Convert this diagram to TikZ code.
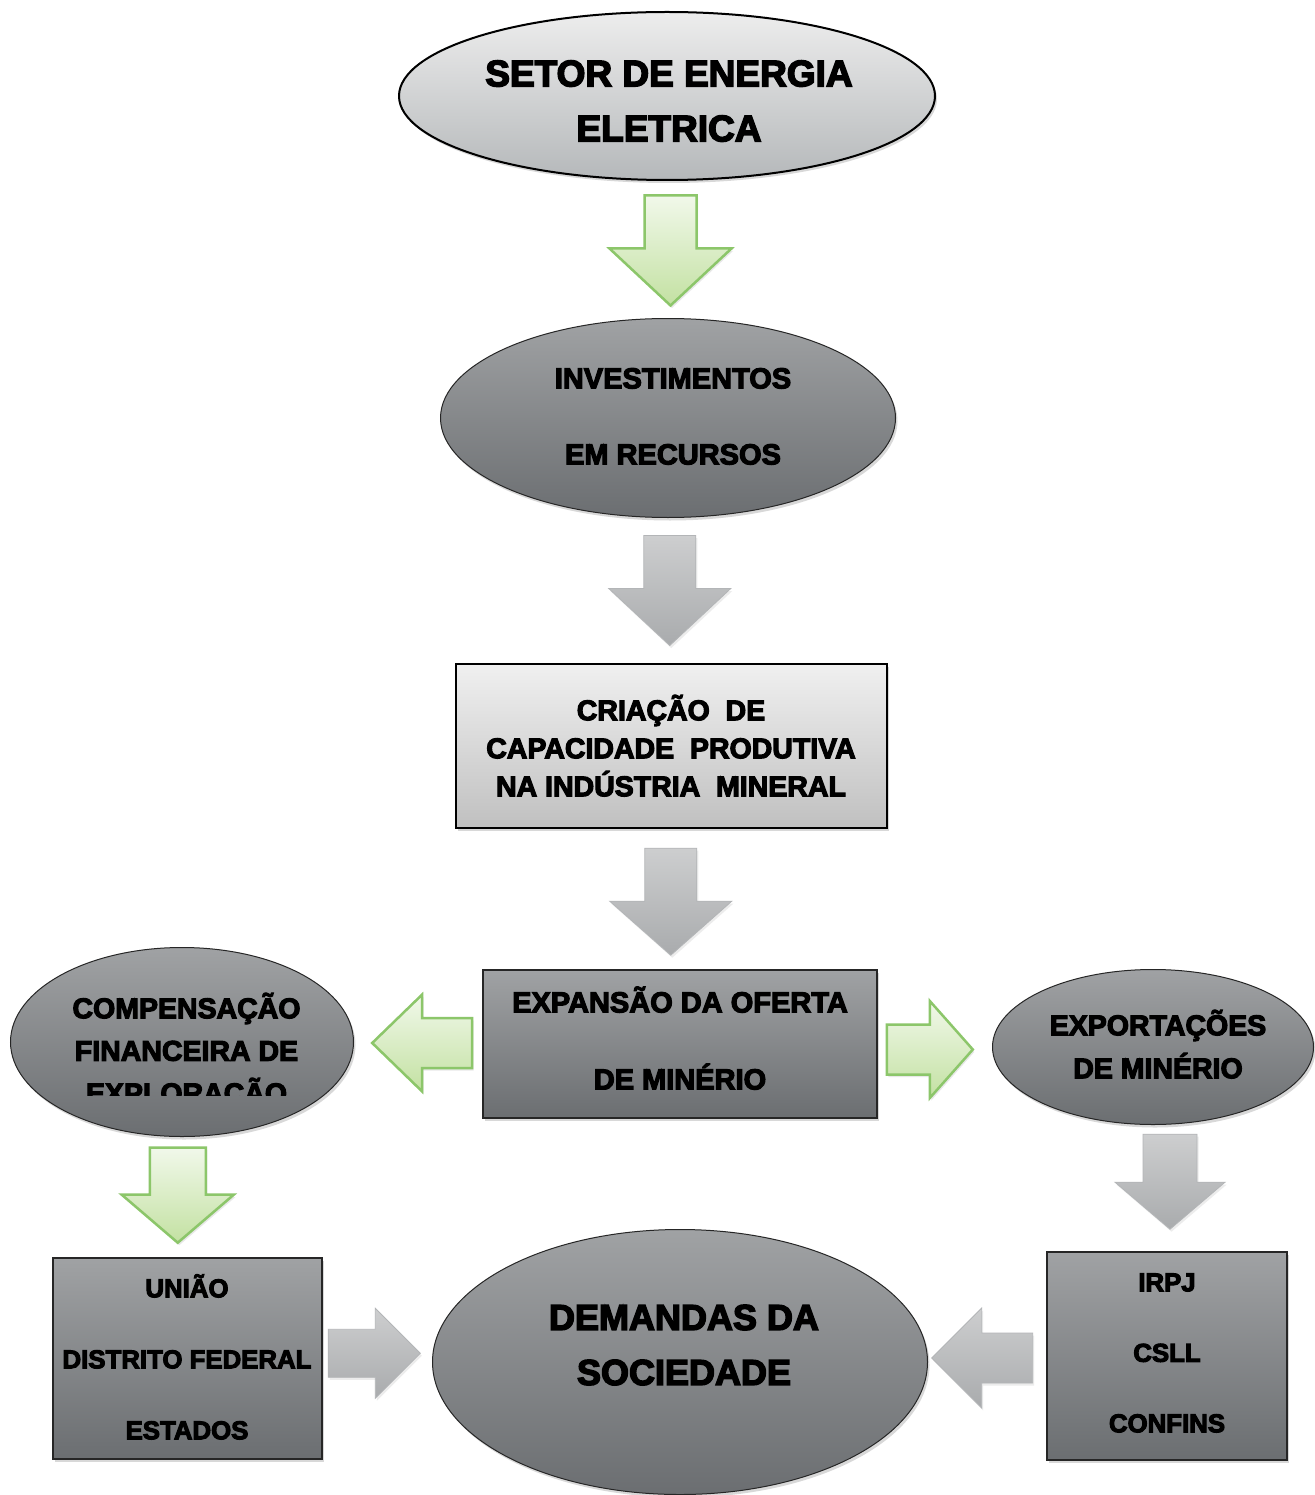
\documentclass[tikz,border=0pt]{standalone}
\usepackage{fontspec}
\setmainfont{Liberation Sans}[BoldFeatures={FakeBold=4}]
\usetikzlibrary{shapes.geometric,shadows,calc}

\definecolor{lightTop}{HTML}{EDEDED}
\definecolor{lightBot}{HTML}{B5B8BA}
\definecolor{boxTop}{HTML}{F0F0F0}
\definecolor{boxBot}{HTML}{C0C0C0}
\definecolor{darkTop}{HTML}{A0A2A4}
\definecolor{darkBot}{HTML}{6B6E71}
\definecolor{greenTop}{HTML}{F1F8EA}
\definecolor{greenBot}{HTML}{C3E1A2}
\definecolor{greenLine}{HTML}{8CC66A}
\definecolor{grayTop}{HTML}{CDCECF}
\definecolor{grayBot}{HTML}{A9ABAD}
\definecolor{grayLine}{HTML}{B3B5B7}

\newcommand\txtsize[2]{\fontsize{#1}{#2}\selectfont\bfseries}

\begin{document}
\begin{tikzpicture}[x=1pt,y=-1pt,
  softshadow/.style={drop shadow={opacity=0.3,shadow xshift=2pt,shadow yshift=-3pt}},
  lightell/.style={ellipse,draw=black,line width=2pt,top color=lightTop,bottom color=lightBot,inner sep=0pt,softshadow},
  darkell/.style={ellipse,draw=black!85,line width=1pt,top color=darkTop,bottom color=darkBot,inner sep=0pt,softshadow},
  lightbox/.style={rectangle,draw=black,line width=2pt,top color=boxTop,bottom color=boxBot,inner sep=0pt,softshadow},
  darkbox/.style={rectangle,draw=black!85,line width=1.2pt,top color=darkTop,bottom color=darkBot,inner sep=0pt,softshadow},
  % multi-line label: the box runs from the top of the first line's capitals
  % down to the last baseline, so the node centre sits midway between the lines
  lbl/.style={align=center,inner sep=0pt,text=black,text depth=0pt},
  greenarrow/.style={draw=greenLine,line width=2.5pt,line join=miter,top color=greenTop,bottom color=greenBot,
    drop shadow={opacity=0.18,shadow xshift=1.5pt,shadow yshift=-2.5pt}},
  grayarrow/.style={draw=grayLine,line width=0.8pt,line join=miter,top color=grayTop,bottom color=grayBot,
    drop shadow={opacity=0.15,shadow xshift=1.5pt,shadow yshift=-2.5pt}},
  % block arrow centred on the origin, pointing along +x:
  % length / shaft width / head width / head length / style
  pics/barrow/.style args={#1/#2/#3/#4/#5}{code={
    \path[#5] (-#1/2,#2/2) -- (#1/2-#4,#2/2) -- (#1/2-#4,#3/2) -- (#1/2,0)
      -- (#1/2-#4,-#3/2) -- (#1/2-#4,-#2/2) -- (-#1/2,-#2/2) -- cycle;
  }}
]
\useasboundingbox (0,0) rectangle (1314,1495);
\fill[white] (0,0) rectangle (1314,1495);

% ---- shapes ----
\node[lightell,minimum width=536,minimum height=168] (top) at (667,96) {};
\node[darkell,minimum width=455,minimum height=199] (inv) at (668,418) {};
\node[lightbox,minimum width=431,minimum height=164] (cria) at (671.5,746) {};
\node[darkbox,minimum width=394,minimum height=148] (exp) at (680,1044) {};
\node[darkell,minimum width=343,minimum height=189] (comp) at (182,1042) {};
\node[darkell,minimum width=321,minimum height=155] (expo) at (1153,1047) {};
\node[darkbox,minimum width=269,minimum height=201] (uni) at (187.5,1358.5) {};
\node[darkell,minimum width=495,minimum height=265] (dem) at (680,1362) {};
\node[darkbox,minimum width=240,minimum height=208] (irpj) at (1167,1356) {};

% ---- texts ----
\node[lbl,font=\txtsize{37}{55},text height=81.6pt] (topT) at (669,100.5)
  {SETOR DE ENERGIA\\ELETRICA};
\node[lbl,font=\txtsize{29}{76},text height=96.8pt] (invT) at (673,416)
  {INVESTIMENTOS\\EM RECURSOS};
\node[lbl,font=\txtsize{28.5}{38},text height=96.4pt] (criaT) at (671,748)
  {CRIAÇÃO\ \ DE\\CAPACIDADE\ \ PRODUTIVA\\NA INDÚSTRIA\ \ MINERAL};
\node[lbl,font=\txtsize{29}{77},text height=97.8pt] (expT) at (680,1040.5)
  {EXPANSÃO DA OFERTA\\DE MINÉRIO};
\begin{scope}
  \clip (0,0) rectangle (1314,1095);
  \node[lbl,font=\txtsize{28.5}{42.5},text height=105.4pt] (compT) at (186.5,1050.5)
    {COMPENSAÇÃO\\FINANCEIRA DE\\EXPLORAÇÃO};
\end{scope}
\node[lbl,font=\txtsize{28.5}{43},text height=63.4pt] (expoT) at (1158,1046.5)
  {EXPORTAÇÕES\\DE MINÉRIO};
\node[lbl,font=\txtsize{25.8}{71},text height=160.5pt] (uniT) at (187,1359)
  {UNIÃO\\DISTRITO FEDERAL\\ESTADOS};
\node[lbl,font=\txtsize{36}{55},text height=80.8pt] (demT) at (684,1344.5)
  {DEMANDAS DA\\SOCIEDADE};
\node[lbl,font=\txtsize{25.8}{70.5},text height=159.5pt] (irpjT) at (1167,1352.5)
  {IRPJ\\CSLL\\CONFINS};

% ---- block arrows between the shapes ----
\pic[rotate=-90] at ($(top.south)!0.5!(inv.north)+(3,1)$) {barrow=110/52/122/57/greenarrow};
\pic[rotate=-90] at ($(inv.south)!0.5!(cria.north)$) {barrow=110/52/122/57/grayarrow};
\pic[rotate=-90] at ($(cria.south)!0.5!(exp.north)+(-5,2.5)$) {barrow=107/52/122/54/grayarrow};
\pic[rotate=180] at ($(exp.west)!0.5!(comp.east)+(4,0)$) {barrow=100/50/97/50/greenarrow};
\pic at ($(exp.east)!0.5!(expo.west)+(-5,4)$) {barrow=86/50/97/43/greenarrow};
\pic[rotate=-90] at ($(comp.south)!0.5!(uni.north)+(-7,-2)$) {barrow=95/56/112/48/greenarrow};
\pic[rotate=-90] at ($(expo.south)!0.5!(irpj.north)+(10,-6.5)$) {barrow=95/54/110/47/grayarrow};
\pic at ($(uni.east)!0.5!(dem.west)+(-3,-7)$) {barrow=92/48/90/45/grayarrow};
\pic[rotate=180] at ($(irpj.west)!0.5!(dem.east)+(-5,-1)$) {barrow=101/50/100/50/grayarrow};
\end{tikzpicture}
\end{document}
